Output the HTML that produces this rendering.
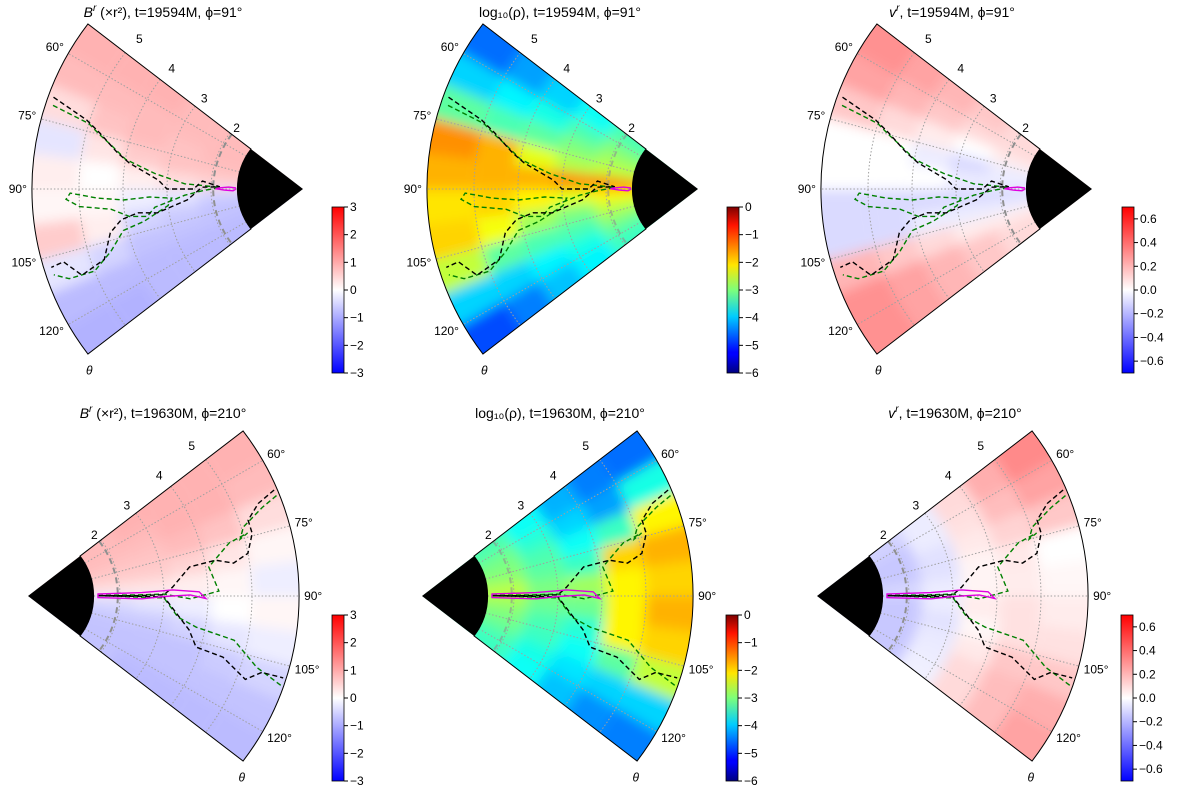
<!DOCTYPE html>
<html><head><meta charset="utf-8">
<style>
html,body{margin:0;padding:0;background:#fff;}
svg{display:block;font-family:"Liberation Sans","DejaVu Sans",sans-serif;}
</style></head>
<body>
<svg id="fig" width="1200" height="800" viewBox="0 0 1200 800" xmlns="http://www.w3.org/2000/svg">
<defs>
<filter id="blur" x="-20%" y="-20%" width="140%" height="140%"><feGaussianBlur stdDeviation="6"/></filter>
<linearGradient id="g-bwr" x1="0" y1="1" x2="0" y2="0">
<stop offset="0" stop-color="#0000ff"/><stop offset="0.5" stop-color="#ffffff"/><stop offset="1" stop-color="#ff0000"/></linearGradient>
<linearGradient id="g-jet" x1="0" y1="1" x2="0" y2="0">
<stop offset="0" stop-color="#00007f"/><stop offset="0.11" stop-color="#0000ff"/><stop offset="0.125" stop-color="#0000ff"/><stop offset="0.34" stop-color="#00ccff"/><stop offset="0.5" stop-color="#7dff7a"/><stop offset="0.65" stop-color="#ffe600"/><stop offset="0.89" stop-color="#ff1300"/><stop offset="1" stop-color="#7f0000"/></linearGradient>
</defs>
</svg>
<script>
// ---- data ----
const rEdges = [1.4, 2.3, 3.2, 4.1, 5.0, 6.07];
const thEdges = [52.5, 60, 67.5, 75, 82.5, 90, 97.5, 105, 112.5, 120, 127.5];
const rTicks = [2, 3, 4, 5];
const thTicks = [60, 75, 90, 105, 120];
const bwrTicks3 = [3, 2, 1, 0, -1, -2, -3];
const jetTicks = [0, -1, -2, -3, -4, -5, -6];
const vrTicks = [0.6, 0.4, 0.2, 0.0, -0.2, -0.4, -0.6];
const titles = [
 ["B","r"," (\u00d7r\u00b2), t=19594M, \u03d5=91\u00b0"],
 ["log\u2081\u2080(\u03c1)","",", t=19594M, \u03d5=91\u00b0"],
 ["v","r",", t=19594M, \u03d5=91\u00b0"],
 ["B","r"," (\u00d7r\u00b2), t=19630M, \u03d5=210\u00b0"],
 ["log\u2081\u2080(\u03c1)","",", t=19630M, \u03d5=210\u00b0"],
 ["v","r",", t=19630M, \u03d5=210\u00b0"]];
const field1 = [[0.8,0.8,0.8,0.7,0.5,-0.5,-0.7,-0.7,-0.8,-0.8],[0.8,0.8,0.7,0.7,0.4,-0.3,-0.6,-0.7,-0.8,-0.8],[0.9,0.8,0.8,0.6,0.2,-0.2,-0.5,-0.7,-0.8,-0.8],[0.9,0.8,0.7,0.3,0,0.1,0.2,-0.5,-0.8,-0.9],[0.9,0.8,0.4,-0.3,0.2,0.1,0.6,-0.3,-0.8,-0.9]];
const field2 = [[-3.3,-3.0,-2.8,-2.6,-1.5,-2.2,-2.6,-2.9,-3.2,-3.4],[-3.7,-3.3,-3.0,-2.7,-1.6,-2.4,-3.0,-3.3,-3.6,-3.8],[-4.0,-3.6,-3.2,-2.4,-1.8,-2.2,-2.8,-3.3,-3.8,-4.1],[-4.3,-3.8,-3.3,-1.8,-1.8,-2.0,-2.3,-3.2,-4.0,-4.5],[-4.6,-4.0,-3.2,-1.6,-1.8,-2.1,-2.0,-2.6,-4.0,-4.8]];
const field3 = [[0.1,0.1,0.05,-0.05,-0.05,-0.1,-0.05,0.05,0.1,0.1],[0.15,0.1,0.0,-0.1,-0.05,-0.1,-0.05,0.05,0.15,0.15],[0.2,0.15,0.05,-0.05,0,-0.1,-0.05,0.1,0.2,0.2],[0.25,0.2,0.1,0,0,-0.1,-0.1,0.15,0.25,0.25],[0.3,0.25,0.15,0.0,0,-0.1,-0.1,0.2,0.3,0.3]];
const field4 = [[0.8,0.8,0.7,0.6,0.3,-0.4,-0.6,-0.7,-0.7,-0.7],[0.9,0.8,0.7,0.6,0.3,-0.3,-0.6,-0.7,-0.7,-0.8],[0.9,0.9,0.8,0.5,0.2,-0.2,-0.5,-0.7,-0.7,-0.8],[0.9,0.9,0.7,0.3,0.1,0,-0.3,-0.6,-0.7,-0.8],[0.9,0.8,0.4,0.1,-0.2,0.1,-0.2,-0.5,-0.7,-0.8]];
const field5 = [[-3.3,-3.1,-3.0,-2.9,-2.6,-2.8,-3.0,-3.1,-3.3,-3.4],[-3.7,-3.5,-3.3,-3.2,-3.0,-3.1,-3.3,-3.4,-3.6,-3.7],[-4.2,-4.0,-3.7,-3.4,-2.8,-3.1,-3.5,-3.7,-3.9,-4.1],[-4.5,-4.3,-3.4,-2.0,-2.2,-2.2,-2.2,-3.2,-4.0,-4.4],[-4.6,-3.6,-2.2,-1.8,-2.0,-1.8,-2.0,-2.6,-4.0,-4.5]];
const field6 = [[-0.12,-0.15,-0.15,-0.15,-0.1,-0.15,-0.15,-0.15,-0.15,-0.15],[-0.05,-0.05,-0.08,-0.08,-0.05,-0.05,-0.08,-0.06,-0.05,-0.04],[0.1,0.08,0.06,0.03,0.03,0.05,0.02,0.06,0.1,0.1],[0.22,0.18,0.12,0.06,0.05,0.08,0.08,0.15,0.18,0.18],[0.32,0.25,0.15,0.0,0.02,0.05,0.08,0.15,0.22,0.25]];
// contours [r, theta]
const topBlack = [[5.95,69.8],[5.07,72.3],[4.7,74.6],[4.2,79],[3.9,81.5],[3.2,86.5],[3.0,90],[2.4,90],[2.2,85.5],[1.8,88.5],[2.2,89],[2.55,95.4],[3.27,99.3],[3.7,98.2],[4.1,99.6],[4.4,102.8],[4.7,109.5],[5.3,111.3],[5.6,106.9],[5.9,107.3]];
const topGreen = [[5.9,71.5],[5.0,73],[4.7,75],[4.4,77],[4.0,80.5],[3.3,84],[2.6,87.5],[2.2,88],[1.8,89],[2.2,91],[2.6,93],[2.9,95],[3.3,97],[3.5,100],[3.9,99],[4.3,96],[5.0,94.5],[5.3,92.5],[5.2,91],[4.6,92.5],[4.0,93.5],[3.4,93],[2.9,94],[3.0,97],[3.6,101.5],[4.1,103],[4.5,108],[5.0,111.5],[5.6,111],[5.9,109]];
const topMagenta = [[1.45,89],[1.6,88.5],[1.8,89.2],[1.9,89.8],[1.7,90.8],[1.5,91.5],[1.45,90.5]];
const botBlack = [[6.0,66.7],[5.55,68.1],[5.2,71],[5.2,74.4],[5.0,79],[4.64,80.9],[4.25,79.2],[3.64,79.8],[3.2,86.5],[3.0,89.5],[2.4,89.8],[1.5,89.8],[2.4,90.2],[3.0,90.4],[3.3,96.5],[3.65,101.9],[3.9,106.9],[4.55,107.4],[5.2,111],[5.5,108.1],[6.0,107.8]];
const botGreen = [[6.0,68],[5.6,69.3],[5.05,72.2],[4.9,75],[5.1,74],[4.64,75.2],[4.07,80.9],[4.25,88.5],[3.6,91],[3.0,89.2],[2.4,89.4],[1.5,89.5],[2.4,90.6],[3.0,90.8],[3.35,98],[3.8,100.5],[4.7,102.1],[5.35,107.3],[6.05,109.6]];
const botMagenta = [[1.5,88.4],[2.5,88.3],[3.2,87.6],[3.8,88.6],[3.95,90.8],[3.6,89.6],[3.0,90.2],[2.5,91.4],[1.5,91.3]];

// ---- scales ----
const R = r => 92 + 44 * (r - 2);
const RIN = R(1.4), ROUT = R(6.07);
const NS = "http://www.w3.org/2000/svg";
const svg = document.getElementById('fig');
function mk(tag, attrs, parent) { const e = document.createElementNS(NS, tag); for (const k in attrs) e.setAttribute(k, attrs[k]); (parent || svg).appendChild(e); return e; }
function pt(P, r, th) { const a = (th - 90) * Math.PI / 180; const rr = R(r); return [P.cx + P.dir * rr * Math.cos(a), P.cy + rr * Math.sin(a)]; }
function ptR(P, rr, th) { const a = (th - 90) * Math.PI / 180; return [P.cx + P.dir * rr * Math.cos(a), P.cy + rr * Math.sin(a)]; }
function sector(P, r0, r1, t0, t1) {
  const a = ptR(P, r0, t0), b = ptR(P, r1, t0), c = ptR(P, r1, t1), d = ptR(P, r0, t1);
  const sw = P.dir > 0 ? 1 : 0;
  return `M${a}L${b}A${r1},${r1} 0 0 ${sw} ${c}L${d}A${r0},${r0} 0 0 ${1 - sw} ${a}Z`;
}
function bwr(v) { v = Math.max(-1, Math.min(1, v)); let r, g, b; if (v < 0) { r = g = 255 * (1 + v); b = 255; } else { r = 255; g = b = 255 * (1 - v); } return `rgb(${r|0},${g|0},${b|0})`; }
function jet(t) { t = Math.max(0, Math.min(1, t)); const f = x => Math.max(0, Math.min(1, x)); const r = f(1.5 - Math.abs(4 * t - 3)), g = f(1.5 - Math.abs(4 * t - 2)), b = f(1.5 - Math.abs(4 * t - 1)); return `rgb(${r*255|0},${g*255|0},${b*255|0})`; }
const cmaps = { br: v => bwr(v / 3), rho: v => jet((v + 6) / 6), vr: v => bwr(v / 0.7) };

const panels = [
 { cx: 303, cy: 189, dir: -1, field: field1, cm: 'br', t: 0, tx: 163, ty: 17, cb: [332, 207], ticks: bwrTicks3, vmax: 3, vmin: -3, cont: 'top' },
 { cx: 698, cy: 189, dir: -1, field: field2, cm: 'rho', t: 1, tx: 560, ty: 17, cb: [727, 207], ticks: jetTicks, vmax: 0, vmin: -6, cont: 'top' },
 { cx: 1092, cy: 189, dir: -1, field: field3, cm: 'vr', t: 2, tx: 952, ty: 17, cb: [1122, 207], ticks: vrTicks, vmax: 0.7, vmin: -0.7, cont: 'top' },
 { cx: 28, cy: 596, dir: 1, field: field4, cm: 'br', t: 3, tx: 163, ty: 418, cb: [332, 615], ticks: bwrTicks3, vmax: 3, vmin: -3, cont: 'bot' },
 { cx: 422, cy: 596, dir: 1, field: field5, cm: 'rho', t: 4, tx: 560, ty: 418, cb: [726, 615], ticks: jetTicks, vmax: 0, vmin: -6, cont: 'bot' },
 { cx: 817, cy: 596, dir: 1, field: field6, cm: 'vr', t: 5, tx: 955, ty: 418, cb: [1121, 615], ticks: vrTicks, vmax: 0.7, vmin: -0.7, cont: 'bot' }];

panels.forEach((P, pi) => {
  const g = mk('g', {});
  
  
  const clipId = 'clip' + pi;
  const cp = mk('clipPath', { id: clipId }, g);
  mk('path', { d: sector(P, 0.01, ROUT, 52.5, 127.5) }, cp);
  const clipG = mk('g', { 'clip-path': `url(#${clipId})` }, g);
  const fg = mk('g', { filter: 'url(#blur)' }, clipG);
  
  
  const cm = cmaps[P.cm];
  P.field.forEach((row, i) => {
    row.forEach((v, j) => {
      const r0 = i === 0 ? 0.02 : R(rEdges[i]);
      const r1 = i === P.field.length - 1 ? ROUT + 30 : R(rEdges[i + 1]);
      const t0 = j === 0 ? 40 : thEdges[j], t1 = j === row.length - 1 ? 140 : thEdges[j + 1];
      const c = mk('path', { d: sector(P, r0, r1, t0, t1 + 0.3), fill: cm(v) }, fg);
      
      
    });
  });
  // grid
  rTicks.forEach(r => {
    const a = ptR(P, R(r), 52.5), b = ptR(P, R(r), 127.5);
    const c = mk('path', { d: `M${a}A${R(r)},${R(r)} 0 0 ${P.dir > 0 ? 1 : 0} ${b}`, fill: 'none', stroke: '#a0a0a0', 'stroke-width': 1, 'stroke-dasharray': '1.5,2' }, clipG);
    
    
  });
  thTicks.forEach(t => {
    const a = ptR(P, RIN, t), b = ptR(P, ROUT, t);
    const l = mk('line', { x1: a[0], y1: a[1], x2: b[0], y2: b[1], stroke: '#a0a0a0', 'stroke-width': 1, 'stroke-dasharray': '1.5,2' }, clipG);
    
    
  });
  // horizon dashed circle
  {
    const rr = R(1.95); const a = ptR(P, rr, 52.5), b = ptR(P, rr, 127.5);
    const h = mk('path', { d: `M${a}A${rr},${rr} 0 0 ${P.dir > 0 ? 1 : 0} ${b}`, fill: 'none', stroke: '#909090', 'stroke-width': 2, 'stroke-dasharray': '6,4', opacity: P.cm === 'rho' ? 0.6 : 1 }, clipG);
    
    
  }
  // contours
  const contSet = P.cont === 'top' ? [[topGreen, 'green', '5,3'], [topBlack, 'black', '5,3'], [topMagenta, '#e000e0', '']] : [[botGreen, 'green', '5,3'], [botBlack, 'black', '5,3'], [botMagenta, '#e000e0', '']];
  contSet.forEach(([arr, col, da]) => {
    const d = 'M' + arr.map(p => pt(P, p[0], p[1]).map(v => v.toFixed(1)).join(',')).join('L') + (col === '#e000e0' ? 'Z' : '');
    const c = mk('path', { d, fill: 'none', stroke: col, 'stroke-width': 1.4, 'stroke-dasharray': da }, clipG);
    
    
  });
  // black inner
  {
    const a = ptR(P, RIN, 52.5), b = ptR(P, RIN, 127.5);
    const k = mk('path', { d: `M${P.cx},${P.cy}L${a}A${RIN},${RIN} 0 0 ${P.dir > 0 ? 1 : 0} ${b}Z`, fill: '#000' }, g);
    
    
  }
  // outline
  const o = mk('path', { d: sector(P, RIN, ROUT, 52.5, 127.5), fill: 'none', stroke: '#000', 'stroke-width': 1 }, g);
  
  
  // theta labels
  thTicks.forEach(t => {
    const p = ptR(P, ROUT + 5, t);
    const s = Math.sin((t - 90) * Math.PI / 180);
    const tx = mk('text', { x: p[0], y: p[1] + 4 + 8 * s, 'font-size': 12, 'text-anchor': P.dir > 0 ? 'start' : 'end', fill: '#000' }, g);
    tx.textContent = t + '\u00b0';
    
    
  });
  { const p = ptR(P, ROUT + 8, 130); const tx = mk('text', { x: p[0], y: p[1] + 6, 'font-size': 12, 'font-style': 'italic', 'text-anchor': 'middle' }, g); tx.textContent = '\u03b8';   }
  // r labels
  rTicks.forEach(r => {
    const p = ptR(P, R(r) - 2, 47.5);
    const tx = mk('text', { x: p[0], y: p[1] + 4, 'font-size': 12, 'text-anchor': 'middle' }, g);
    tx.textContent = r;
    
    
  });
  // title
  const T = titles[P.t];
  const tt = mk('text', { x: P.tx, y: P.ty, 'font-size': 14, 'text-anchor': 'middle' }, g);
  
  
  const s1 = mk('tspan', { 'font-style': T[1] ? 'italic' : 'normal' }, tt); s1.textContent = T[0];
  if (T[1]) { const s2 = mk('tspan', { 'font-size': 10, dy: -6, 'font-style': 'italic' }, tt); s2.textContent = T[1]; const s3 = mk('tspan', { dy: 6 }, tt); s3.textContent = T[2]; }
  else { const s3 = mk('tspan', {}, tt); s3.textContent = T[2]; }
  // colorbar
  const [bx, by] = P.cb, bw = 12, bh = 166;
  const cbg = mk('g', {}, g);
  
  
  mk('rect', { x: bx, y: by, width: bw, height: bh, fill: P.cm === 'rho' ? 'url(#g-jet)' : 'url(#g-bwr)', stroke: '#000', 'stroke-width': 0.8 }, cbg);
  const yv = v => by + (P.vmax - v) / (P.vmax - P.vmin) * bh;
  P.ticks.forEach(v => {
    const y = yv(v);
    mk('line', { x1: bx + bw, y1: y, x2: bx + bw + 4, y2: y, stroke: '#000', 'stroke-width': 1 }, cbg);
    const tx = mk('text', { x: bx + bw + 6, y: y + 4, 'font-size': 12 }, cbg);
    tx.textContent = P.cm === 'vr' ? (v < 0 ? '\u2212' + Math.abs(v).toFixed(1) : v.toFixed(1)) : (v < 0 ? '\u2212' + Math.abs(v) : String(v));
    
    
  });
});
</script>
</body></html>
